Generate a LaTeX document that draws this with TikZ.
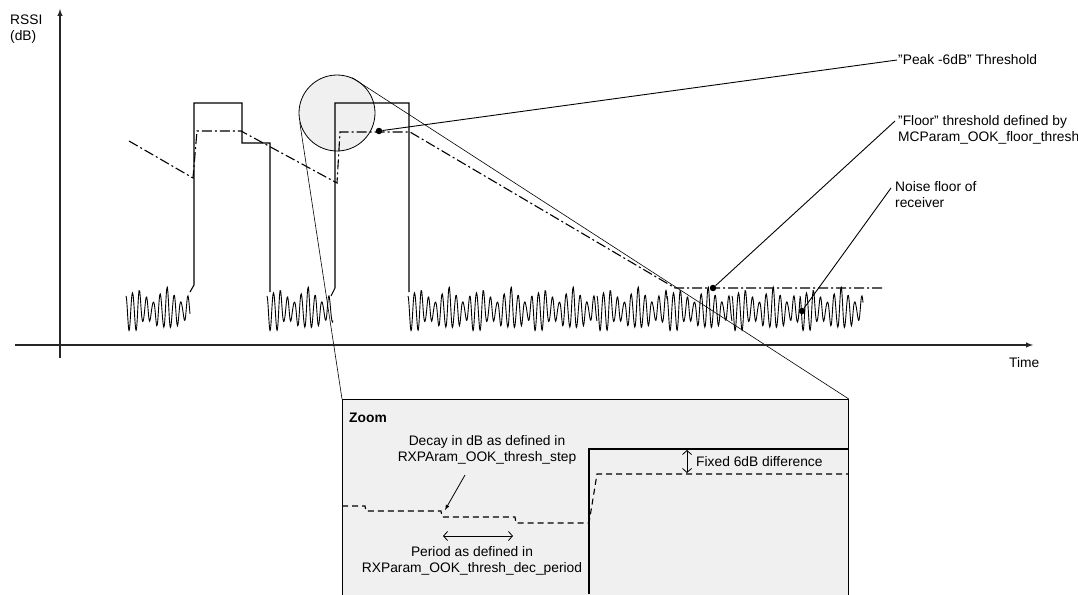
\documentclass[tikz,border=0pt]{standalone}
\usepackage{fontspec}
\setmainfont{Liberation Sans}
\usepackage{tikz}
\usetikzlibrary{arrows,arrows.meta}
\tikzset{
  sig/.style={line width=1.1pt,line join=miter},
  noise/.style={line width=0.9pt},
  thr/.style={line width=1.1pt,dash pattern=on 10pt off 3pt on 2pt off 3pt},
  zthr/.style={line width=1.1pt,dash pattern=on 6pt off 4pt},
  callout/.style={line width=0.9pt},
  dot/.style={circle,fill=black,inner sep=0pt,minimum size=6.5pt},
  lbl/.style={inner sep=1pt,align=left},
  magfill/.style={fill=black!6},
  dbl/.style={line width=0.8pt,{Straight Barb[length=4pt,width=9pt]}-{Straight Barb[length=4pt,width=9pt]}},
}
\begin{document}
\begin{tikzpicture}[x=1pt,y=-1pt,font=\fontsize{13.8}{16}\selectfont]
\useasboundingbox (0,0) rectangle (1078,594);
\node[draw,magfill,anchor=north west,minimum width=506pt,minimum height=220pt,inner sep=0pt,line width=0.8pt] (zoombox) at (342,399) {};
\node[draw,magfill,circle,minimum size=76pt,inner sep=0pt,line width=0.8pt] (mag) at (337,113) {};
\draw[line width=0.6pt] (mag.194) -- (zoombox.north west);
\draw[line width=0.6pt] (mag.67) -- (zoombox.north east);
\draw[line width=1.4pt,black!85,-latex] (60,358) -- (60,9);
\draw[line width=1.4pt,black!85,-latex] (15,345) -- (1033,345);
\node[lbl,anchor=north west] (rssi) at (9,14) {RSSI\\(dB)};
\node[lbl,anchor=north west] (time) at (1008,356) {Time};
\foreach \s/\w in {126/64,267/66,408/62,470/62,532/65,597/70,667/65,732/68,800/63}
  \draw[noise] plot[domain=0:\w,samples=2*\w,smooth] ({\s+\x},{310+(15+5*sin(\x*11)+3*sin(\x*37))*sin(\x*52-70)});
\draw[sig] (190,292) -- (194,285) -- (194,103) -- (242,103) -- (242,143) -- (270,143) -- (270,292);
\draw[sig] (331,296) -- (335,288) -- (335,103) -- (409,103) -- (409,292);
\draw[thr] (129,141) -- (193,178) -- (197,131) -- (241,131) -- (337,183) -- (340,132) -- (410,132) -- (675,288) -- (883,288);
\node[dot] (pkdot) at (379,131) {};
\node[dot] (fldot) at (713,288) {};
\node[dot] (nfdot) at (802,311) {};
\node[lbl,anchor=west] (pk) at (897,60) {''Peak -6dB'' Threshold};
\node[lbl,anchor=north west] (fl) at (897,114) {''Floor'' threshold defined by\\MCParam\_OOK\_floor\_thresh};
\node[lbl,anchor=north west] (nf) at (894,180) {Noise floor of\\receiver};
\coordinate (flend) at (895,121);
\coordinate (nfend) at (891,188);
\draw[callout] (pkdot) -- (pk.west);
\draw[callout] (fldot) -- (flend);
\draw[callout] (nfdot) -- (nfend);
\node[anchor=west,inner sep=0pt] (zlbl) at (349,418) {\bfseries Zoom};
\draw[sig] (589,594) -- (589,449) -- (848,449);
\draw[zthr] (342,506) -- (365,506) -- (366,511) -- (441,511) -- (442,517) -- (515,517) -- (516,523) -- (589,523) -- (597,474) -- (848,474);
\node[align=center,inner sep=1pt] (decay) at (487,450) {Decay in dB as defined in\\RXPAram\_OOK\_thresh\_step};
\coordinate (decayend) at (445,510);
\draw[line width=0.8pt,-latex] (465,475) -- (decayend);
\coordinate (pera) at (443,536);
\coordinate (perb) at (513,536);
\draw[dbl] (pera) -- (perb);
\node[align=center,inner sep=1pt] (period) at (472,561) {Period as defined in\\RXParam\_OOK\_thresh\_dec\_period};
\coordinate (fxa) at (687,450);
\coordinate (fxb) at (687,473);
\draw[dbl] (fxa) -- (fxb);
\node[anchor=west,inner sep=1pt] (fixed) at (695,462) {Fixed 6dB difference};
\end{tikzpicture}
\end{document}
